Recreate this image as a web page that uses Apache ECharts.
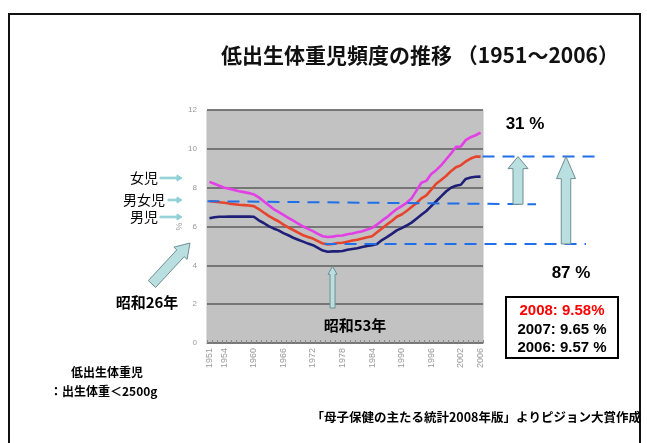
<!DOCTYPE html>
<html>
<head>
<meta charset="utf-8">
<script src="https://cdn.jsdelivr.net/npm/echarts@6/dist/echarts.min.js"></script>
<style>
html,body{margin:0;padding:0;background:#fff;}
#chart{width:647px;height:443px;}
</style>
</head>
<body>
<div id="chart"></div>
<script>
// Years 1951–2006
const years = ['1951','1952','1953','1954','1955','1956','1957','1958','1959','1960',
  '1961','1962','1963','1964','1965','1966','1967','1968','1969','1970',
  '1971','1972','1973','1974','1975','1976','1977','1978','1979','1980',
  '1981','1982','1983','1984','1985','1986','1987','1988','1989','1990',
  '1991','1992','1993','1994','1995','1996','1997','1998','1999','2000',
  '2001','2002','2003','2004','2005','2006'];

// Years that carry a tick label
const tickYears = ['1951','1954','1960','1966','1972','1978','1984','1990','1996','2002','2006'];

// Low birth weight rate (%), girls
const girls = [8.30,8.20,8.10,8.00,7.95,7.88,7.82,7.77,7.72,7.65,
  7.50,7.30,7.10,6.90,6.75,6.60,6.45,6.30,6.15,6.00,
  5.88,5.76,5.62,5.50,5.46,5.48,5.52,5.54,5.60,5.64,
  5.70,5.76,5.84,5.93,6.10,6.30,6.48,6.70,6.90,7.05,
  7.22,7.45,7.85,8.25,8.35,8.70,8.90,9.15,9.45,9.75,
  10.10,10.12,10.45,10.60,10.70,10.84];

// Low birth weight rate (%), all births
const both = [7.30,7.28,7.25,7.22,7.18,7.15,7.12,7.10,7.08,7.05,
  6.90,6.72,6.55,6.40,6.27,6.10,5.95,5.82,5.68,5.55,
  5.46,5.38,5.25,5.12,5.08,5.10,5.15,5.16,5.22,5.28,
  5.32,5.38,5.45,5.50,5.70,5.90,6.10,6.28,6.50,6.62,
  6.80,7.00,7.20,7.45,7.60,7.90,8.20,8.40,8.60,8.85,
  9.05,9.15,9.35,9.50,9.60,9.60];

// Low birth weight rate (%), boys
const boys = [6.42,6.48,6.50,6.50,6.51,6.51,6.51,6.51,6.51,6.50,
  6.32,6.18,6.02,5.90,5.80,5.66,5.55,5.42,5.32,5.22,
  5.12,5.04,4.90,4.76,4.70,4.72,4.72,4.74,4.80,4.84,
  4.88,4.94,5.00,5.04,5.10,5.30,5.45,5.62,5.80,5.92,
  6.05,6.20,6.40,6.60,6.80,7.05,7.30,7.55,7.80,8.00,
  8.10,8.15,8.45,8.52,8.56,8.57];

// Reference levels for the dashed guides
const levelStart = 7.3;   // 1951, all births
const levelMin = 5.1;     // 1978 minimum
const levelEnd = 9.6;     // 2006

const yMin = 0, yMax = 12, yStep = 2;

const JP = '"Noto Sans CJK JP", sans-serif';
const LAT = '"Liberation Sans", Arial, sans-serif';

const chart = echarts.init(document.getElementById('chart'), null, {renderer: 'canvas'});

chart.setOption({
  animation: false,
  backgroundColor: '#ffffff',
  grid: {
    left: 207, right: 164, top: 110, bottom: 100,
    show: true, backgroundColor: '#c2c2c2', borderColor: '#bdbdbd', borderWidth: 1
  },
  xAxis: {
    type: 'category',
    data: years,
    boundaryGap: true,
    axisLine: {lineStyle: {color: '#7a7a7a', width: 1}},
    axisTick: {show: true, inside: true, interval: 0, length: 3, lineStyle: {color: '#8a8a8a'}},
    axisLabel: {
      rotate: 90,
      interval: (i, v) => tickYears.indexOf(v) >= 0,
      color: '#9a9a9a', fontSize: 9, fontFamily: LAT, margin: 5
    },
    splitLine: {show: false}
  },
  yAxis: {
    type: 'value',
    min: yMin, max: yMax, interval: yStep,
    name: '%', nameLocation: 'middle', nameGap: 20, nameRotate: 90,
    nameTextStyle: {color: '#a0a0a0', fontSize: 9, fontFamily: LAT},
    axisLine: {show: false},
    axisTick: {show: false},
    axisLabel: {color: '#9a9a9a', fontSize: 8, fontFamily: LAT, margin: 10},
    splitLine: {show: true, lineStyle: {color: '#5c5c5c', width: 1.6}}
  },
  series: [
    {name: '女児', type: 'line', data: girls, symbol: 'none', smooth: false,
      lineStyle: {color: '#e33fe6', width: 2.6}, z: 3},
    {name: '男女児', type: 'line', data: both, symbol: 'none', smooth: false,
      lineStyle: {color: '#e8432c', width: 2.6}, z: 3},
    {name: '男児', type: 'line', data: boys, symbol: 'none', smooth: false,
      lineStyle: {color: '#1f1f78', width: 2.6}, z: 3}
  ]
});

// Pixel helpers through the grid's own scales
const toPx = (idx, v) => chart.convertToPixel({gridIndex: 0}, [idx, v]);
const yPx = v => toPx(0, v)[1];

// Block arrow outline from (x0,y0) to tip (x1,y1)
function arrow(x0, y0, x1, y1, sw, hw, hl, opts) {
  const dx = x1 - x0, dy = y1 - y0, L = Math.hypot(dx, dy);
  const ux = dx / L, uy = dy / L, nx = -uy, ny = ux;
  const bx = x1 - ux * hl, by = y1 - uy * hl;
  const pts = [
    [x0 + nx * sw / 2, y0 + ny * sw / 2],
    [bx + nx * sw / 2, by + ny * sw / 2],
    [bx + nx * hw / 2, by + ny * hw / 2],
    [x1, y1],
    [bx - nx * hw / 2, by - ny * hw / 2],
    [bx - nx * sw / 2, by - ny * sw / 2],
    [x0 - nx * sw / 2, y0 - ny * sw / 2]
  ];
  return {
    type: 'polygon', z: 20,
    shape: {points: pts},
    style: Object.assign({fill: '#badfe1', stroke: '#6f8f90', lineWidth: 1}, opts || {})
  };
}

function dashed(x0, y0, x1, y1) {
  return {
    type: 'line', z: 15,
    shape: {x1: x0, y1: y0, x2: x1, y2: y1},
    style: {stroke: '#1f6fe8', lineWidth: 2, lineDash: [12, 8]}
  };
}

function text(str, x, y, size, opts) {
  return {
    type: 'text', z: 30, x: x, y: y,
    style: Object.assign({
      text: str, fill: '#000', fontSize: size, fontFamily: JP,
      align: 'center', verticalAlign: 'middle'
    }, opts || {})
  };
}

const yStart = yPx(levelStart);
const yLow = yPx(levelMin);
const yHigh = yPx(levelEnd);
const xLeft = toPx(0, 0)[0] - 2;
const xMinYear = toPx(years.indexOf('1978'), 0)[0];
const xRight = toPx(years.length - 1, 0)[0];

const graphics = [
  // outer frame
  {type: 'rect', z: 1, shape: {x: 9, y: 14, width: 631, height: 440},
    style: {fill: 'none', stroke: '#111', lineWidth: 2}},

  // title
  text('低出生体重児頻度の推移 （1951～2006）', 420, 55, 21, {fontWeight: 'bold', fill: '#111'}),

  // dashed guide levels
  dashed(xLeft, yStart, 536, yStart + 3),
  dashed(xMinYear - 18, yLow, 586, yLow),
  dashed(xRight + 2, yHigh, 600, yHigh),

  // rise arrows
  arrow(518, yStart + 3, 518, yHigh, 10, 20, 12),
  arrow(566, yLow, 566, yHigh, 9.5, 19, 22),
  text('31 %', 525, 124, 17, {fontWeight: 'bold', fontFamily: LAT}),
  text('87 %', 571, 273, 17, {fontWeight: 'bold', fontFamily: LAT}),

  // minimum year marker
  arrow(xMinYear - 10, 308, xMinYear - 10, yPx(4) + 1, 5, 9, 8),
  text('昭和53年', 355, 325, 15, {fontWeight: 'bold'}),

  // start year marker
  arrow(152, 284, 190, 243, 10, 18, 14),
  text('昭和26年', 147, 302, 15, {fontWeight: 'bold'}),

  // series labels
  text('女児', 144, 178, 14),
  text('男女児', 144, 200, 14),
  text('男児', 144, 217, 14),
  arrow(160, 178, 182, 178, 1.6, 6, 5, {fill: '#8fcfd5', stroke: '#8fcfd5'}),
  arrow(168, 200, 182, 200, 1.6, 6, 5, {fill: '#8fcfd5', stroke: '#8fcfd5'}),
  arrow(160, 217, 182, 217, 1.6, 6, 5, {fill: '#8fcfd5', stroke: '#8fcfd5'}),

  // recent values box
  {type: 'rect', z: 25, shape: {x: 506, y: 297, width: 112, height: 61},
    style: {fill: '#fff', stroke: '#000', lineWidth: 2}},
  text('2008: 9.58%', 562, 311, 15, {fontWeight: 'bold', fontFamily: LAT, fill: '#ff0000'}),
  text('2007: 9.65 %', 562, 330, 15, {fontWeight: 'bold', fontFamily: LAT}),
  text('2006: 9.57 %', 562, 348, 15, {fontWeight: 'bold', fontFamily: LAT}),

  // definition note
  text('低出生体重児', 107, 372, 12, {fontWeight: 'bold'}),
  text('：出生体重＜2500g', 50, 391, 12, {fontWeight: 'bold', align: 'left'}),

  // source note
  text('「母子保健の主たる統計2008年版」よりピジョン大賞作成', 641, 417, 12.5,
    {fontWeight: 'bold', align: 'right'})
];

chart.setOption({graphic: graphics});
</script>
</body>
</html>
